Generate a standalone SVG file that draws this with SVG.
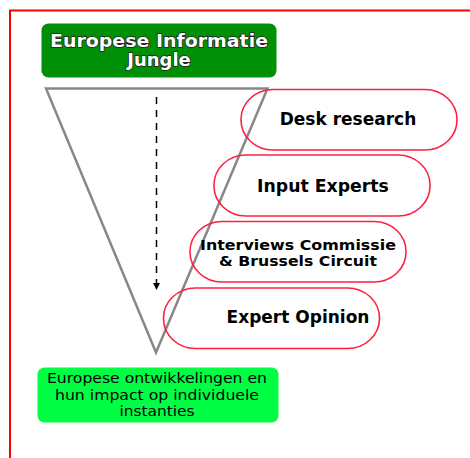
<svg xmlns="http://www.w3.org/2000/svg" width="470" height="458" viewBox="0 0 470 458">
<defs>
<style>
.box{fill:none;stroke:#ff2040;stroke-width:1.6}
.lbl{font-family:"DejaVu Sans",Verdana,sans-serif;font-weight:bold;fill:#000;text-anchor:middle}
.title{font-family:"DejaVu Sans",Verdana,sans-serif;font-weight:bold;font-size:18px;fill:#fff;stroke:#222;stroke-width:1.6;paint-order:stroke;text-anchor:middle}
.sub{font-family:"DejaVu Sans",Verdana,sans-serif;font-size:13.5px;fill:#000;text-anchor:middle}
</style>
<marker id="ah" markerWidth="8" markerHeight="8" refX="7" refY="4" orient="auto" markerUnits="userSpaceOnUse">
<path d="M0,0.5 L7,4 L0,7.5 Z" fill="#000"/>
</marker>
</defs>
<rect x="10" y="10.5" width="470" height="460" fill="none" stroke="#ff0000" stroke-width="2"/>
<g id="top">
<rect x="41.5" y="23.5" width="235" height="54" rx="7" fill="#009008"/>
<text class="title" x="159" y="46.5" textLength="218" lengthAdjust="spacingAndGlyphs">Europese Informatie</text>
<text class="title" x="159" y="66">Jungle</text>
</g>
<g id="funnel">
<path d="M46,88.5 L267.5,88.5 L156,352.5 Z" fill="none" stroke="#888" stroke-width="2.5" stroke-linejoin="miter"/>
</g>
<g id="connectors">
<line x1="156.5" y1="97" x2="156.5" y2="290" stroke="#000" stroke-width="1.5" stroke-dasharray="7,6" marker-end="url(#ah)"/>
</g>
<g id="desk">
<rect class="box" x="241" y="89.5" width="216" height="60.5" rx="32" ry="30"/>
<text class="lbl" x="348" y="124.5" font-size="17">Desk research</text>
</g>
<g id="input">
<rect class="box" x="214" y="155" width="216" height="61" rx="32" ry="30"/>
<text class="lbl" x="323" y="191.5" font-size="17.3">Input Experts</text>
</g>
<g id="interviews">
<rect class="box" x="190" y="221.5" width="216" height="60.5" rx="32" ry="30"/>
<text class="lbl" x="298" y="249.5" font-size="14.5" textLength="196" lengthAdjust="spacingAndGlyphs">Interviews Commissie</text>
<text class="lbl" x="298" y="265.5" font-size="14.5" textLength="158" lengthAdjust="spacingAndGlyphs">&amp; Brussels Circuit</text>
</g>
<g id="opinion">
<rect class="box" x="163.5" y="288" width="216" height="60.5" rx="32" ry="30"/>
<text class="lbl" x="298" y="322.5" font-size="17">Expert Opinion</text>
</g>
<g id="bottom">
<rect x="37.5" y="367.5" width="241" height="55" rx="7" fill="#00ff44"/>
<text class="sub" x="157" y="383" textLength="220" lengthAdjust="spacingAndGlyphs">Europese ontwikkelingen en</text>
<text class="sub" x="157" y="399.5" textLength="204" lengthAdjust="spacingAndGlyphs">hun impact op individuele</text>
<text class="sub" x="157" y="415.5" textLength="75" lengthAdjust="spacingAndGlyphs">instanties</text>
</g>
</svg>
